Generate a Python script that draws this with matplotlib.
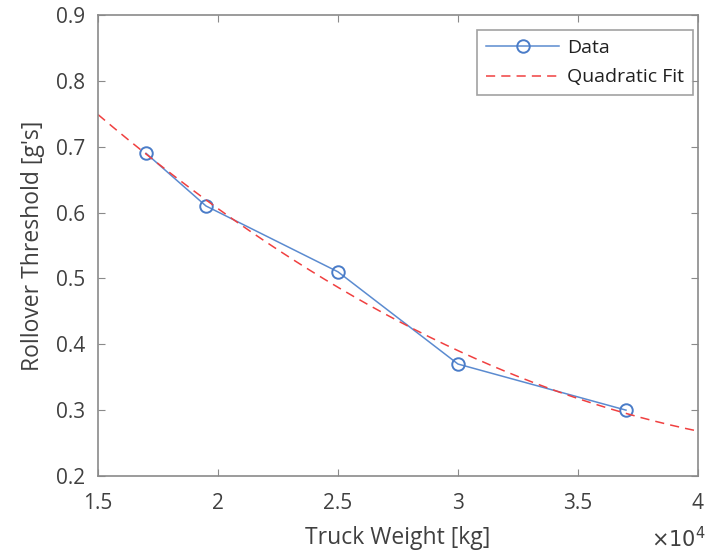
import numpy as np
import matplotlib
matplotlib.use("Agg")
import matplotlib.pyplot as plt

# Measured rollover thresholds by truck weight
truck_weight = [17000, 19500, 25000, 30000, 37000]
rollover = [0.69, 0.61, 0.51, 0.37, 0.30]

x_ticks = [15000, 20000, 25000, 30000, 35000, 40000]
x_tick_labels = ["1.5", "2", "2.5", "3", "3.5", "4"]
y_ticks = [0.2, 0.3, 0.4, 0.5, 0.6, 0.7, 0.8, 0.9]

# Quadratic least-squares fit evaluated across the axis range
coef = np.polyfit(truck_weight, rollover, 2)
fit_x = np.linspace(15000, 40000, 200)
fit_y = np.polyval(coef, fit_x)

plt.rcParams["font.family"] = ["Open Sans", "DejaVu Sans"]
text_col = "#404040"
axis_col = "#8a8a8a"

fig = plt.figure(figsize=(7.16, 5.54), dpi=100)
ax = fig.add_axes([98/716, 1 - 476/554, 600/716, 461/554])

ax.plot(truck_weight, rollover, "-o", color="#5b8bd0", lw=1.1,
        markerfacecolor="none", markeredgecolor="#4a7cc8", markersize=9,
        markeredgewidth=1.4, label="Data")
ax.plot(fit_x, fit_y, "--", color="#f04040", lw=1.1, dashes=(6, 4),
        label="Quadratic Fit")

ax.set_xlim(15000, 40000)
ax.set_ylim(0.2, 0.9)
ax.set_xticks(x_ticks)
ax.set_xticklabels(x_tick_labels)
ax.set_yticks(y_ticks)
ax.set_yticklabels([f"{v:.1f}" for v in y_ticks])

for s in ax.spines.values():
    s.set_color(axis_col)
    s.set_linewidth(1.2)
ax.tick_params(direction="in", length=5, color=axis_col, labelcolor=text_col,
               labelsize=15, top=True, right=True)
ax.tick_params(axis="x", pad=12)
ax.tick_params(axis="y", pad=9)

ax.set_xlabel("Truck Weight [kg]", fontsize=16.5, color=text_col, labelpad=9)
ax.set_ylabel("Rollover Threshold [g's]", fontsize=16.5, color=text_col, labelpad=8)

ax.text(1.012, -0.138, r"$\times10^4$", transform=ax.transAxes, fontsize=15,
        color=text_col, ha="right", va="center")

leg = ax.legend(loc="upper right", bbox_to_anchor=(693/716, 1 - 30/554),
                bbox_transform=fig.transFigure, fontsize=14, frameon=True,
                fancybox=False, edgecolor=axis_col, handlelength=3.8,
                handletextpad=0.4, borderaxespad=0.0, borderpad=0.45,
                labelspacing=0.6)
leg.get_frame().set_linewidth(1.2)
for t in leg.get_texts():
    t.set_color("#202020")

fig.savefig("out.png", dpi=100)
